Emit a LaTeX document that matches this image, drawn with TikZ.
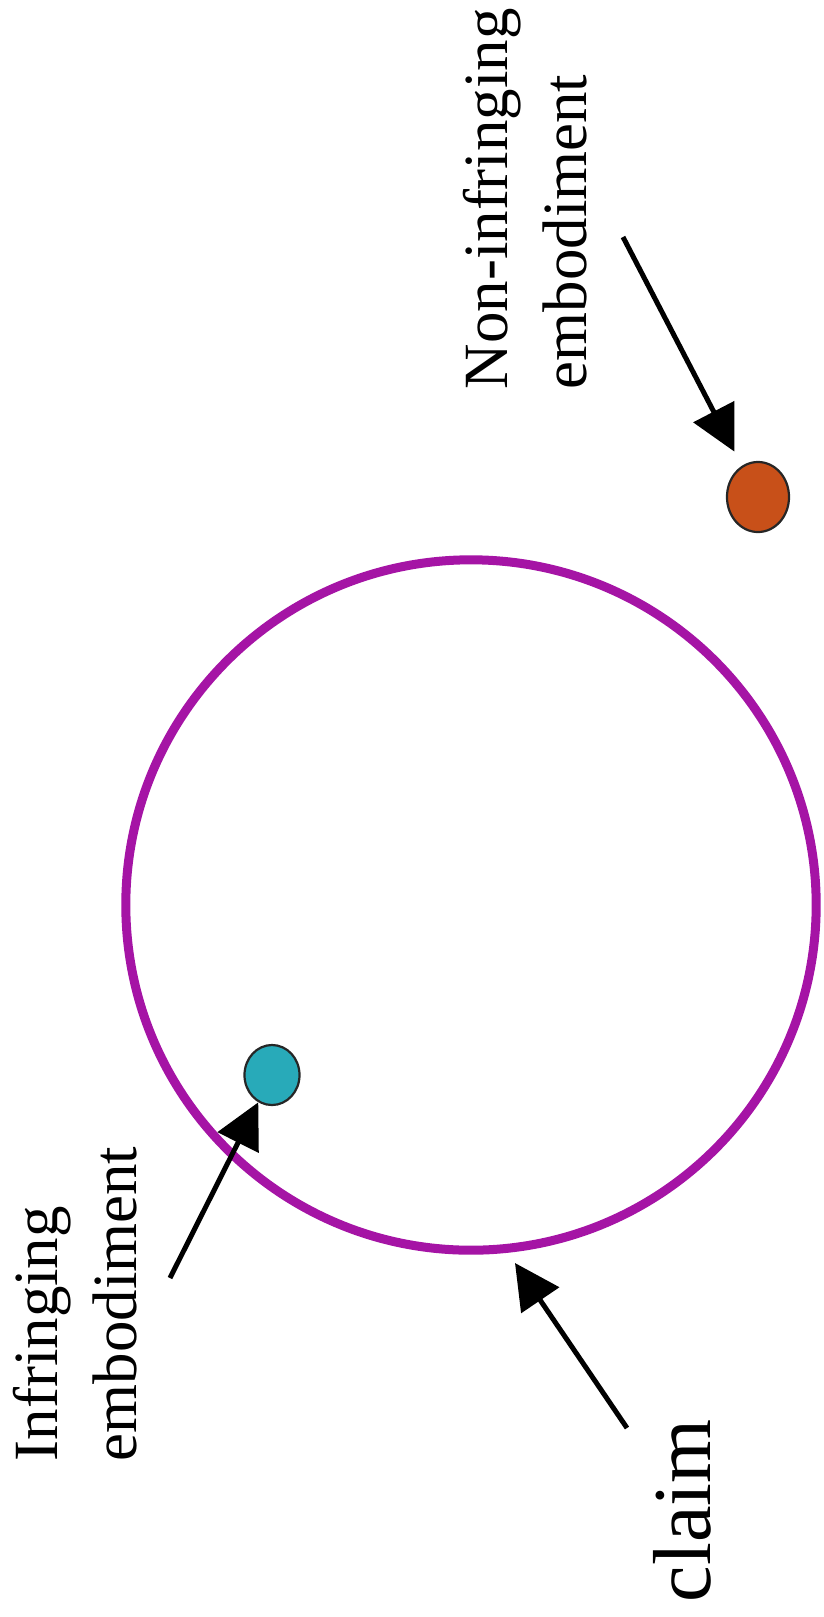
\documentclass[tikz,border=0pt]{standalone}
\usepackage{fontspec}
\setmainfont{Liberation Serif}
\definecolor{claimline}{RGB}{165, 20, 165}
\definecolor{infdot}{RGB}{40, 170, 185}
\definecolor{nondot}{RGB}{200, 80, 25}
\usetikzlibrary{arrows.meta, shapes.geometric}

\begin{document}
\begin{tikzpicture}[x=0.01cm, y=-0.01cm,
    every node/.style={inner sep=0pt},
    claimring/.style={circle, draw=claimline, line width=0.09cm, minimum size=6.9cm},
    embdot/.style={ellipse, draw=black!85, line width=0.022cm, minimum width=0.55cm, minimum height=0.6cm},
    lbl/.style={font=\fontsize{17.9}{22.5}\selectfont, align=left, rotate=90, anchor=north west},
    arr/.style={-{Triangle[length=4.5mm, width=4.5mm]}, line width=0.05cm, black}
  ]
  \useasboundingbox (0,0) rectangle (823,1617);
  % Claim boundary and embodiments
  \node[claimring] (claim) at (471, 905) {};
  \node[embdot, fill=infdot] (inf) at (272, 1075) {};
  \node[embdot, fill=nondot, minimum width=0.62cm, minimum height=0.70cm] (non) at (758, 497) {};

  % Labels
  \node[lbl] (inflbl) at (12, 1462) {Infringing\\embodiment};
  \node[lbl] (nonlbl) at (462, 390) {Non-infringing\\embodiment};
  \node[font=\fontsize{23.4}{28}\selectfont, rotate=90, anchor=base west] (claimlbl) at (710, 1603) {claim};

  % Arrows
  \coordinate (inftail) at (170, 1278);
  \coordinate (nontail) at (623, 237);
  \coordinate (claimtail) at (627, 1428);
  \coordinate (claimtip) at (515, 1263);
  \draw[arr] (inftail) -- (inf);
  \draw[arr, shorten >=0.16cm] (nontail) -- (non);
  \draw[arr] (claimtail) -- (claimtip);
\end{tikzpicture}
\end{document}
